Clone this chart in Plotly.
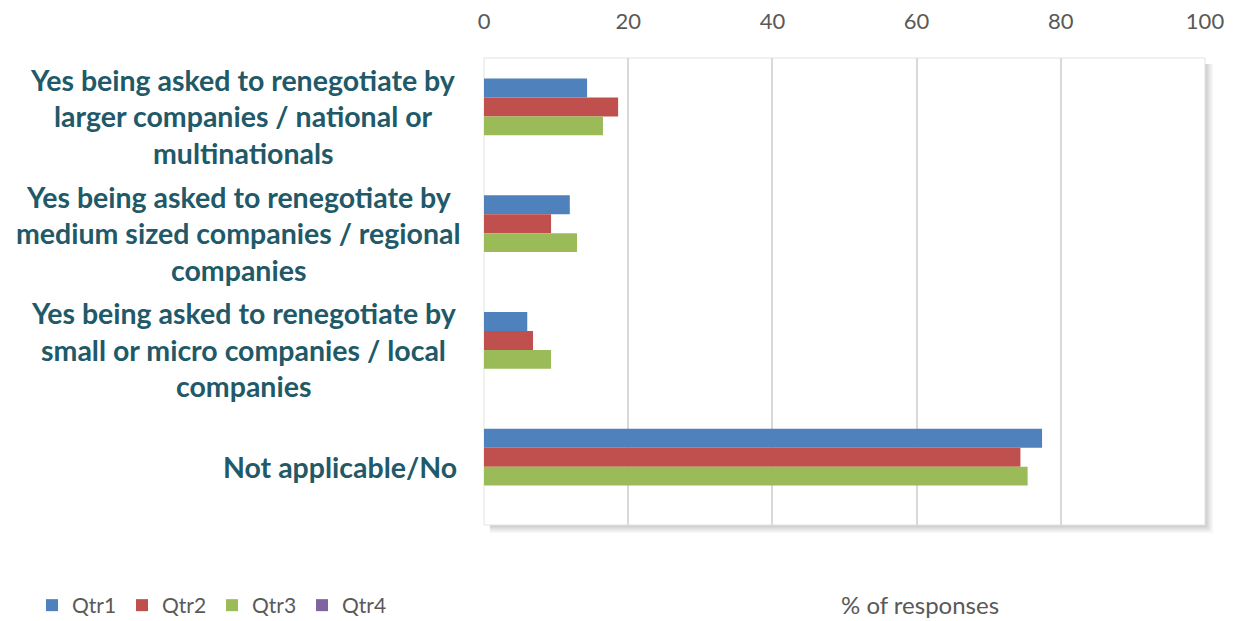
import plotly.graph_objects as go

categories = [
    "Yes being asked to renegotiate by<br>larger companies / national or<br>multinationals",
    "Yes being asked to renegotiate by<br>medium sized companies / regional<br>companies",
    "Yes being asked to renegotiate by<br>small or micro companies / local<br>companies",
    "Not applicable/No",
]
series_names = ["Qtr1", "Qtr2", "Qtr3", "Qtr4"]
qtr1 = [14.3, 11.9, 6.0, 77.4]
qtr2 = [18.6, 9.3, 6.8, 74.4]
qtr3 = [16.5, 12.9, 9.3, 75.4]
qtr4 = [None, None, None, None]
colors = ["#4F81BD", "#C0504D", "#9BBB59", "#8064A2"]
x_ticks = [0, 20, 40, 60, 80, 100]
x_title = "% of responses"

W, H = 1235, 621
L, R, T, B = 484, 30, 58, 96
PW, PH = W - L - R, H - T - B

fig = go.Figure()
for name, vals, col in zip(series_names, [qtr1, qtr2, qtr3, qtr4], colors):
    fig.add_trace(go.Bar(
        y=categories, x=vals, name=name, orientation="h",
        marker=dict(color=col, line=dict(width=0)),
    ))

TEXT_COL = "#215968"
GRAY = "#595959"

# category labels (centered lines within a right-aligned block)
block_centers = [243, 238.5, 243.5, 340]
line_gap = 36.5
annotations = []
for cat, cx in zip(categories, block_centers):
    lines = cat.split("<br>")
    n = len(lines)
    for i, ln in enumerate(lines):
        annotations.append(dict(
            x=(cx - L) / PW, xref="paper", y=cat, yref="y",
            text=ln, showarrow=False, xanchor="center", yanchor="middle",
            yshift=-(i - (n - 1) / 2) * line_gap,
            font=dict(family="Lato", size=28.5, color=TEXT_COL, weight="bold"),
        ))

annotations.append(dict(
    x=(920 - L) / PW, xref="paper", y=(T + PH - 604) / PH, yref="paper",
    text=x_title, showarrow=False, xanchor="center", yanchor="middle",
    font=dict(family="Lato", size=24, color=GRAY), borderpad=0,
))

shapes = [dict(type="rect", xref="paper", yref="paper", x0=0, x1=1, y0=0, y1=1,
               line=dict(color="#E3E3E3", width=1), layer="below")]
# soft shadow on right and bottom
for k in range(8):
    op = 0.42 * (1 - k / 8) ** 1.3
    shapes.append(dict(type="rect", xref="paper", yref="paper",
                       x0=1 + (k + 0.5) / PW, x1=1 + (k + 1.5) / PW,
                       y0=-(k + 1.5) / PH, y1=1 - 6 / PH,
                       line=dict(width=0), fillcolor="#7F7F7F", opacity=op))
    shapes.append(dict(type="rect", xref="paper", yref="paper",
                       x0=6 / PW, x1=1 + (k + 0.5) / PW,
                       y0=-(k + 1.5) / PH, y1=-(k + 0.5) / PH,
                       line=dict(width=0), fillcolor="#7F7F7F", opacity=op))

fig.update_layout(
    width=W, height=H,
    margin=dict(l=L, r=R, t=T, b=B, autoexpand=False),
    paper_bgcolor="white", plot_bgcolor="white",
    barmode="group", bargap=0.35, bargroupgap=0,
    font=dict(family="Lato", color=GRAY),
    xaxis=dict(
        side="top", range=[0, 100], tickvals=x_ticks,
        showgrid=True, gridcolor="#D9D9D9", gridwidth=2, zeroline=False,
        ticks="outside", ticklen=19, tickcolor="rgba(0,0,0,0)",
        tickfont=dict(family="Lato", size=22, color=GRAY),
        showline=False, fixedrange=True,
    ),
    yaxis=dict(
        autorange="reversed", showticklabels=False, showgrid=False,
        zeroline=False, ticks="",
    ),
    legend=dict(
        orientation="h", traceorder="normal",
        xref="container", yref="container",
        x=32 / W, y=1 - 585 / H, xanchor="left", yanchor="top",
        font=dict(family="Lato", size=21, color=GRAY),
        entrywidth=45, entrywidthmode="pixels",
        itemclick=False, itemdoubleclick=False,
    ),
    annotations=annotations,
    shapes=shapes,
)

fig.write_html(
    "out.html",
    config={"displayModeBar": False},
    post_script="document.body.style.margin='0';document.body.style.overflow='hidden';",
)
